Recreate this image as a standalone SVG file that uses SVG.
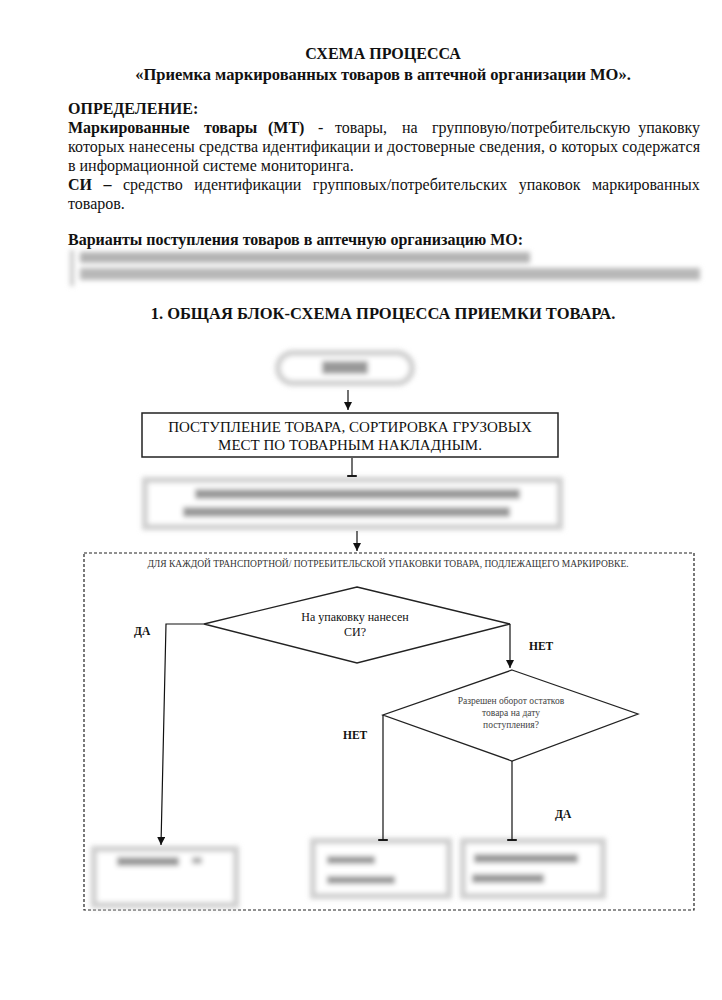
<svg xmlns="http://www.w3.org/2000/svg" width="722" height="1000" viewBox="0 0 722 1000">
<style>
text{font-family:"Liberation Serif","DejaVu Serif",serif;fill:#111}
.h{font-size:16px;font-weight:bold}
.h2{font-size:16.5px;font-weight:bold}
.p{font-size:16px}
.b{font-weight:bold}
.lbl{font-size:11.5px;font-weight:bold}
.box{fill:#fff;stroke:#222;stroke-width:1.5}
.ln{fill:none;stroke:#111;stroke-width:1.2}
.fz{filter:url(#blur)}
.fzb{fill:#fff;stroke:#cfcfcf;stroke-width:6}
.bar{fill:#999}
.d2{font-size:9.5px;fill:#444}
</style>
<defs>
<filter id="blur" x="-20%" y="-50%" width="140%" height="200%"><feGaussianBlur stdDeviation="2.8"/></filter>
<marker id="arr" viewBox="0 0 10 10" refX="10" refY="5" markerWidth="7" markerHeight="7" orient="auto"><path d="M0,0L10,5L0,10z" fill="#111"/></marker>
<marker id="tee" viewBox="0 0 10 10" refX="5" refY="5" markerWidth="8" markerHeight="8" orient="auto"><path d="M5,0V10" stroke="#111" stroke-width="2"/></marker>
</defs>

<g id="header">
<text class="h" x="383" y="59" text-anchor="middle">СХЕМА ПРОЦЕССА</text>
<text class="h2" x="383" y="80" text-anchor="middle">«Приемка маркированных товаров в аптечной организации МО».</text>
<text class="h" x="68" y="114">ОПРЕДЕЛЕНИЕ:</text>
<text class="p b" x="68" y="133">Маркированные</text>
<text class="p b" x="204" y="133">товары</text>
<text class="p b" x="268" y="133">(МТ)</text>
<text class="p" x="318" y="133">-</text>
<text class="p" x="335" y="133">товары,</text>
<text class="p" x="402" y="133">на</text>
<text class="p" x="432" y="133">групповую/потребительскую</text>
<text class="p" x="700" y="133" text-anchor="end">упаковку</text>
<text class="p" x="68" y="152" textLength="632" lengthAdjust="spacing">которых нанесены средства идентификации и достоверные сведения, о которых содержатся</text>
<text class="p" x="68" y="171">в информационной системе мониторинга.</text>
<text class="p" x="68" y="190" word-spacing="7.5"><tspan class="b">СИ –</tspan> средство идентификации групповых/потребительских упаковок маркированных</text>
<text class="p" x="68" y="209">товаров.</text>
<text class="h" x="68" y="245">Варианты поступления товаров в аптечную организацию МО:</text>
<g class="fz">
<rect x="70" y="250" width="4" height="36" fill="#c8c8c8"/>
<rect x="80" y="252" width="450" height="11" fill="#b4b4b4"/>
<rect x="80" y="268" width="620" height="12" fill="#b8b8b8"/>
</g>
<text class="h2" x="383" y="319" text-anchor="middle">1. ОБЩАЯ БЛОК-СХЕМА ПРОЦЕССА ПРИЕМКИ ТОВАРА.</text>
</g>

<g id="start" class="fz">
<rect x="278" y="353" width="134" height="30" rx="15" class="fzb"/>
<rect x="322" y="361" width="46" height="13" class="bar"/>
</g>

<g id="receive">
<rect x="142" y="413" width="416" height="44" class="box"/>
<text x="350" y="432" text-anchor="middle" style="font-size:15px">ПОСТУПЛЕНИЕ ТОВАРА, СОРТИРОВКА ГРУЗОВЫХ</text>
<text x="350" y="450" text-anchor="middle" style="font-size:15px">МЕСТ ПО ТОВАРНЫМ НАКЛАДНЫМ.</text>
</g>

<g id="step2" class="fz">
<rect x="145" y="480" width="415" height="47" class="fzb"/>
<rect x="195" y="489" width="325" height="10" class="bar"/>
<rect x="183" y="507" width="327" height="10" class="bar"/>
</g>

<g id="loop">
<rect x="84" y="553" width="610" height="357" fill="none" stroke="#222" stroke-width="1.2" stroke-dasharray="3,2"/>
<text x="388" y="567" text-anchor="middle" style="font-size:9.5px;fill:#333">ДЛЯ КАЖДОЙ ТРАНСПОРТНОЙ/ ПОТРЕБИТЕЛЬСКОЙ УПАКОВКИ ТОВАРА, ПОДЛЕЖАЩЕГО МАРКИРОВКЕ.</text>
</g>

<g id="decision1">
<polygon points="357,587 510,624 357,663 204,624" class="box" style="stroke-width:1.3"/>
<text x="355" y="621" text-anchor="middle" style="font-size:12px">На упаковку нанесен</text>
<text x="355" y="636" text-anchor="middle" style="font-size:12px">СИ?</text>
</g>

<g id="decision2">
<polygon points="512,670 638,714 512,761 383,715" class="box" style="stroke-width:1.3"/>
<text class="d2" x="511" y="704" text-anchor="middle">Разрешен оборот остатков</text>
<text class="d2" x="511" y="716" text-anchor="middle">товара на дату</text>
<text class="d2" x="511" y="728" text-anchor="middle">поступления?</text>
</g>

<g id="out1" class="fz">
<rect x="94" y="849" width="142" height="56" class="fzb"/>
<rect x="117" y="857" width="62" height="9" class="bar"/>
<rect x="192" y="857" width="10" height="7" fill="#b0b0b0"/>
</g>
<g id="out2" class="fz">
<rect x="313" y="841" width="136" height="55" class="fzb"/>
<rect x="327" y="856" width="48" height="8" class="bar"/>
<rect x="327" y="876" width="68" height="8" class="bar"/>
</g>
<g id="out3" class="fz">
<rect x="463" y="841" width="140" height="55" class="fzb"/>
<rect x="474" y="854" width="104" height="9" class="bar"/>
<rect x="472" y="874" width="72" height="9" class="bar"/>
</g>

<g id="connectors">
<line x1="348" y1="390" x2="348" y2="410" class="ln" marker-end="url(#arr)"/>
<line x1="352" y1="458" x2="352" y2="476" class="ln" marker-end="url(#tee)"/>
<line x1="357" y1="531" x2="357" y2="551" class="ln" marker-end="url(#arr)"/>
<polyline points="204,624 166,624 161,845" class="ln" marker-end="url(#arr)"/>
<line x1="510" y1="624" x2="510" y2="668" class="ln" marker-end="url(#arr)"/>
<line x1="383" y1="715" x2="383" y2="840" class="ln" marker-end="url(#tee)"/>
<line x1="512" y1="761" x2="512" y2="840" class="ln" marker-end="url(#tee)"/>
<text class="lbl" x="134" y="635">ДА</text>
<text class="lbl" x="529" y="650">НЕТ</text>
<text class="lbl" x="343" y="739">НЕТ</text>
<text class="lbl" x="555" y="818">ДА</text>
</g>
</svg>
